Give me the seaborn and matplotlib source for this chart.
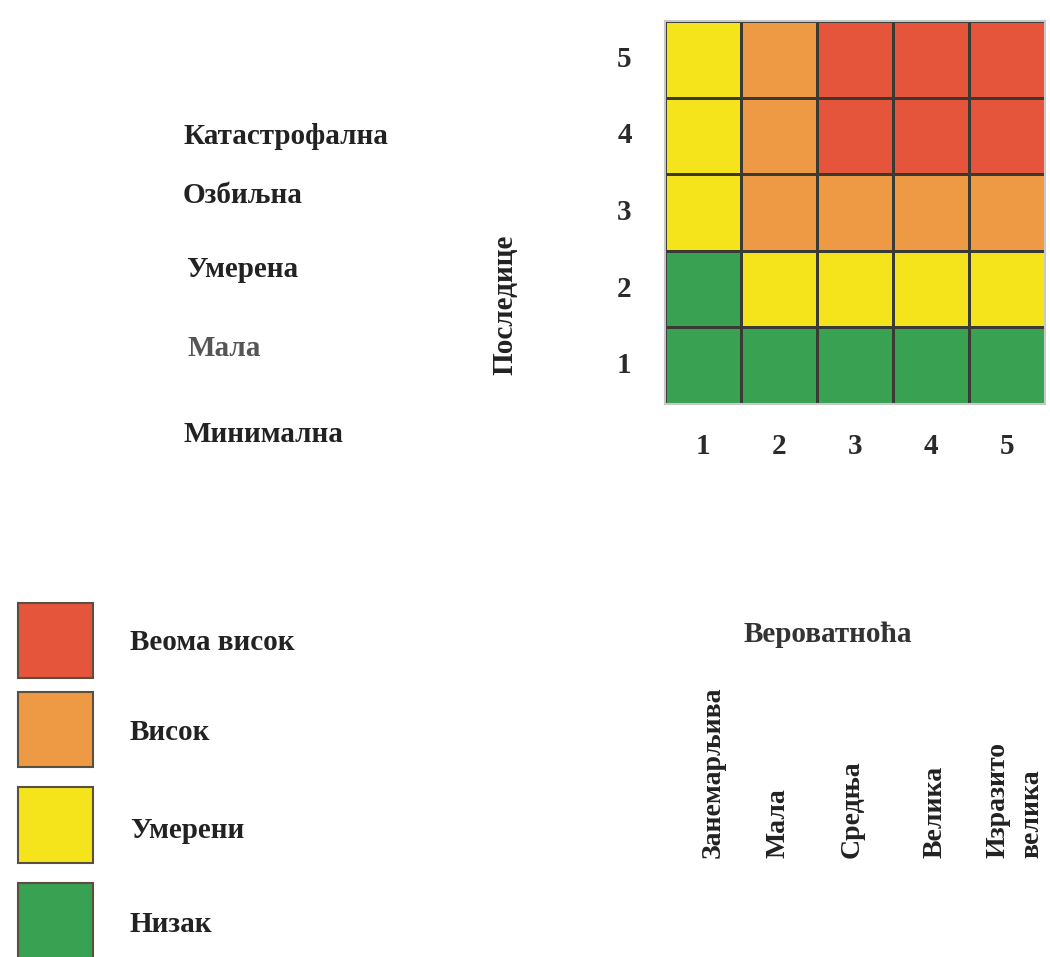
import matplotlib
matplotlib.use("Agg")
import matplotlib.pyplot as plt
import seaborn as sns
import numpy as np
import pandas as pd
from matplotlib.colors import ListedColormap
from matplotlib.patches import Rectangle

sns.set_theme(style="white")
plt.rcParams['font.family'] = ['Liberation Serif', 'DejaVu Serif']
plt.rcParams['font.weight'] = 'bold'

# ---- data ----
likelihood = [1, 2, 3, 4, 5]
consequence = [5, 4, 3, 2, 1]            # rows top -> bottom
# risk level codes: 0 = Низак, 1 = Умерени, 2 = Висок, 3 = Веома висок
row_5 = [1, 2, 3, 3, 3]
row_4 = [1, 2, 3, 3, 3]
row_3 = [1, 2, 2, 2, 2]
row_2 = [0, 1, 1, 1, 1]
row_1 = [0, 0, 0, 0, 0]
level_names = ["Низак", "Умерени", "Висок", "Веома висок"]
level_colors = ["#38a152", "#f5e41c", "#ee9a45", "#e4553b"]
consequence_names = ["Катастрофална", "Озбиљна", "Умерена", "Мала", "Минимална"]
likelihood_names = ["Занемарљива", "Мала", "Средња", "Велика", "Изразито", "велика"]

matrix = pd.DataFrame([row_5, row_4, row_3, row_2, row_1],
                      index=consequence, columns=likelihood)

W, H = 1050, 957
fig = plt.figure(figsize=(W / 100, H / 100), dpi=100)
fig.patch.set_facecolor("white")

def fx(px):
    return px / W

def fy(py):
    return 1 - py / H

ax = fig.add_axes([fx(665), fy(404), fx(1045) - fx(665), fy(21) - fy(404)])
cmap = ListedColormap(level_colors)
sns.heatmap(matrix, ax=ax, cmap=cmap, vmin=-0.5, vmax=3.5, cbar=False,
            linewidths=0.8, linecolor="#3a3a35", square=False)
ax.set_xlabel("")
ax.set_ylabel("")
ax.tick_params(axis="both", length=0, labelsize=21, colors="#2a2a2a")
ax.tick_params(axis="y", pad=24, rotation=0)
ax.tick_params(axis="x", pad=21)
for lab in ax.get_xticklabels() + ax.get_yticklabels():
    lab.set_fontweight("bold")
for s in ax.spines.values():
    s.set_visible(True)
    s.set_color("#c8c8c8")
    s.set_linewidth(1.5)

txt_color = "#222222"
fs = 21

# consequence names (left column)
cons_pos = [(183, 137), (183, 195), (186, 270), (188, 348), (183, 435)]
for name, (x, y) in zip(consequence_names, cons_pos):
    c = "#555555" if name == "Мала" else txt_color
    fig.text(fx(x), fy(y), name, ha="left", va="center", fontsize=fs,
             color=c, fontweight="bold")

fig.text(fx(505), fy(305), "Последице", rotation=90, ha="center", va="center",
         fontsize=fs, color=txt_color, fontweight="bold")

fig.text(fx(828), fy(635), "Вероватноћа", ha="center", va="center",
         fontsize=fs, color="#333333", fontweight="bold")

lik_x = [713, 778, 852, 935, 998, 1032]
for name, x in zip(likelihood_names, lik_x):
    fig.text(fx(x), fy(858), name, rotation=90, ha="center", va="bottom",
             fontsize=20, color=txt_color, fontweight="bold")

# legend
leg_y = [(603, 678), (692, 767), (787, 863), (883, 960)]
leg_lab_y = [643, 732, 830, 925]
for name, col, (y0, y1), ly in zip(level_names[::-1], level_colors[::-1], leg_y, leg_lab_y):
    fig.patches.append(Rectangle((fx(18), fy(y1)), fx(93) - fx(18), fy(y0) - fy(y1),
                                 transform=fig.transFigure, facecolor=col,
                                 edgecolor="#5a5040", linewidth=1.5))
    fig.text(fx(130), fy(ly), name, ha="left", va="center", fontsize=fs,
             color=txt_color, fontweight="bold")

fig.savefig("out.png", dpi=100, facecolor="white")
